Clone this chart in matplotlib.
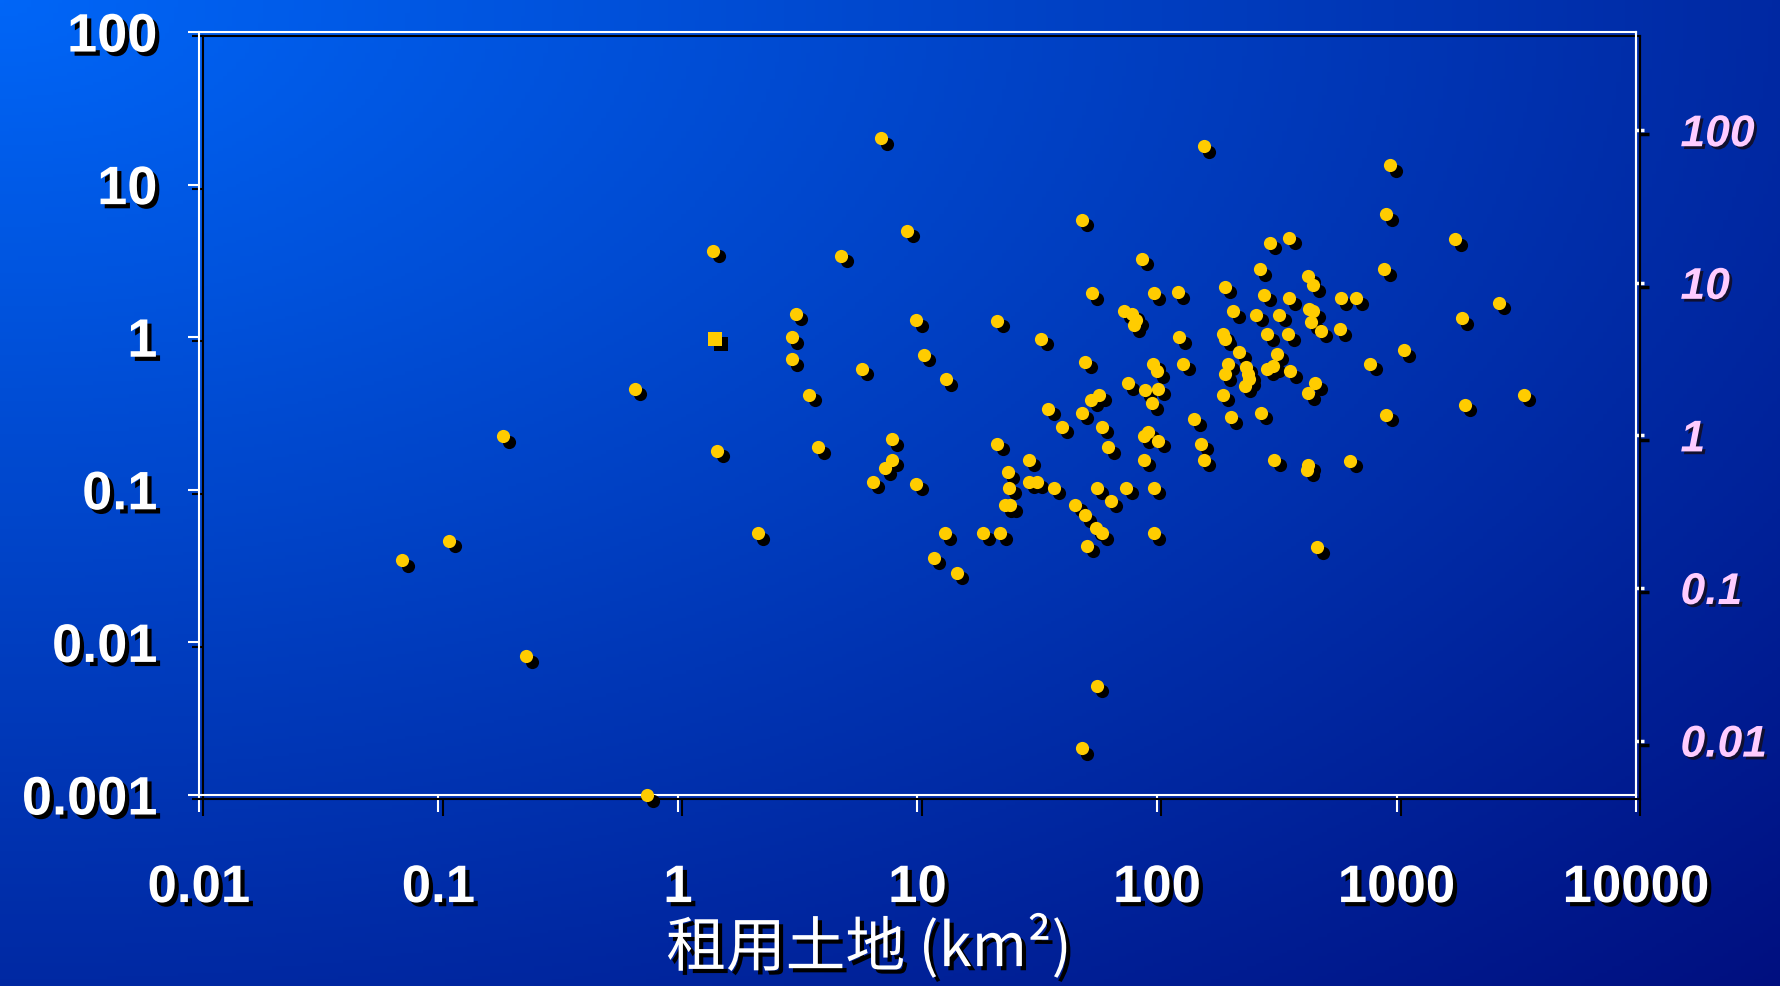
import numpy as np
import matplotlib.pyplot as plt
import matplotlib.patheffects as pe
from matplotlib.transforms import ScaledTranslation

# leased land area (km2) and the left-axis value for each site
rent_area = [0.0705, 0.111, 0.186, 0.232, 0.745, 0.66, 1.40, 1.46, 2.15, 2.98,
             2.98, 3.1, 3.54, 3.86, 4.81, 5.86, 6.5, 7.05, 7.3, 7.8,
             7.8, 9.07, 9.9, 9.9, 10.6, 11.7, 13.0, 13.1, 14.6, 18.8,
             21.5, 21.5, 22.2, 23.8, 24.1, 23.3, 24.4, 29.1, 29.1, 31.4,
             32.9, 35.2, 37.1, 40.0, 45.6, 48.6, 48.6, 48.6, 50.2, 50.0,
             51.0, 53.0, 53.5, 55.5, 56.0, 56.0, 57.5, 58.7, 58.7, 62.5,
             64.0, 73.0, 74.5, 75.5, 79.0, 80.0, 82.0, 86.5, 88.0, 88.0,
             89.0, 91.5, 95.0, 96.5, 97.0, 97.0, 97.0, 100.0, 101.0, 101.0,
             122.0, 124.0, 129.0, 143.0, 153.0, 157.0, 157.0, 188.0, 188.0, 192.0,
             192.0, 192.0, 197.0, 203.0, 208.0, 220.0, 232.0, 235.0, 240.0, 242.0,
             260.0, 268.0, 271.0, 280.0, 289.0, 289.0, 295.0, 305.0, 308.0, 316.0,
             323.0, 354.0, 357.0, 357.0, 360.0, 423.0, 427.0, 427.0, 427.0, 432.0,
             440.0, 448.0, 448.0, 458.0, 466.0, 482.0, 580.0, 586.0, 640.0, 680.0,
             778.0, 890.0, 905.0, 905.0, 940.0, 1070.0, 1760.0, 1870.0, 1930.0, 2670.0,
             3390.0]
y_value = [0.0347, 0.0464, 0.224, 0.0081, 0.001, 0.46, 3.68, 0.18, 0.052, 1.0,
           0.72, 1.43, 0.42, 0.19, 3.43, 0.62, 0.113, 20.2, 0.138, 0.157,
           0.214, 5.0, 1.29, 0.11, 0.77, 0.036, 0.052, 0.53, 0.0286, 0.052,
           1.28, 0.2, 0.052, 0.13, 0.103, 0.079, 0.079, 0.157, 0.113, 0.113,
           0.98, 0.34, 0.103, 0.26, 0.08, 5.88, 0.32, 0.00203, 0.69, 0.068,
           0.043, 0.39, 1.95, 0.056, 0.103, 0.0052, 0.42, 0.052, 0.26, 0.19,
           0.085, 1.48, 0.103, 0.5, 1.43, 1.2, 1.3, 3.26, 0.157, 0.224,
           0.45, 0.24, 0.37, 0.67, 1.95, 0.103, 0.052, 0.6, 0.21, 0.46,
           1.98, 1.0, 0.67, 0.29, 0.2, 0.157, 17.9, 0.42, 1.05, 2.15,
           0.98, 0.57, 0.67, 0.3, 1.48, 0.8, 0.48, 0.64, 0.57, 0.53,
           1.4, 2.8, 0.32, 1.9, 0.62, 1.05, 4.15, 0.65, 0.157, 0.78,
           1.4, 1.05, 1.8, 4.5, 0.6, 0.135, 0.146, 0.43, 2.52, 1.52,
           1.25, 2.2, 1.48, 0.5, 0.042, 1.1, 1.13, 1.8, 0.155, 1.8,
           0.67, 2.8, 6.4, 0.31, 13.4, 0.82, 4.37, 1.33, 0.36, 1.68,
           0.42]
# one site drawn with a square marker
sq_area = [1.43]
sq_value = [0.98]

x_ticks = [0.01, 0.1, 1, 10, 100, 1000, 10000]
x_labels = ['0.01', '0.1', '1', '10', '100', '1000', '10000']
y_ticks = [0.001, 0.01, 0.1, 1, 10, 100]
y_labels = ['0.001', '0.01', '0.1', '1', '10', '100']
r_ticks = [0.01, 0.1, 1, 10, 100]
r_labels = ['0.01', '0.1', '1', '10', '100']

plt.rcParams['font.family'] = ['Liberation Sans', 'Noto Sans CJK SC', 'DejaVu Sans']

fig = plt.figure(figsize=(17.81, 9.86), dpi=100)

# blue background, bright in the top-left corner and dark towards bottom-right
bg = fig.add_axes([0, 0, 1, 1], zorder=-10)
h, v = np.meshgrid(np.linspace(0, 1, 400), np.linspace(0, 1, 300))
t = np.clip(np.sqrt(h ** 2 + v ** 2) / np.sqrt(2), 0, 1)
c_tl = np.array([0.0, 0.40, 0.97])
c_br = np.array([0.0, 0.06, 0.50])
grad = c_tl + (c_br - c_tl) * t[..., None]
bg.imshow(grad, aspect='auto', extent=[0, 1, 0, 1], origin='upper')
bg.axis('off')

line_fx = [pe.SimpleLineShadow(offset=(3, -3), shadow_color='black', alpha=1), pe.Normal()]
text_fx = [pe.withSimplePatchShadow(offset=(3, -3), shadow_rgbFace='black', alpha=1)]

ax = fig.add_axes([0.1117, 0.1937, 0.8069, 0.7738])
ax.set_facecolor('none')
ax.set_xscale('log')
ax.set_yscale('log')
ax.set_xlim(0.01, 10000)
ax.set_ylim(0.001, 100)

# right axis runs on a shifted scale
ax2 = ax.twinx()
ax2.set_yscale('log')
ax2.set_ylim(0.001 * 4.4, 100 * 4.4)

ax.set_xticks(x_ticks, x_labels, fontsize=38, fontweight='bold', color='white')
ax.set_yticks(y_ticks, y_labels, fontsize=39, fontweight='bold', color='white')
ax2.set_yticks(r_ticks, r_labels, fontsize=32, fontweight='bold', style='italic',
               color='#ffccff')
ax.minorticks_off()
ax2.minorticks_off()

ax.tick_params(axis='x', direction='out', length=12, width=1.5, color='white', pad=37)
ax.tick_params(axis='y', direction='out', length=8, width=1.5, color='white', pad=22)
ax2.tick_params(axis='y', direction='out', length=6, width=2.5, color='white', pad=26)

for a in (ax, ax2):
    for sp in a.spines.values():
        sp.set_color('white')
        sp.set_linewidth(1.5)
        sp.set_path_effects(line_fx)
ax2.spines['left'].set_visible(False)
ax2.spines['top'].set_visible(False)
ax2.spines['bottom'].set_visible(False)

for tick in ax.xaxis.get_major_ticks() + ax.yaxis.get_major_ticks() + ax2.yaxis.get_major_ticks():
    tick.tick1line.set_path_effects(line_fx)
    tick.tick2line.set_path_effects(line_fx)
for lbl in ax.get_xticklabels() + ax.get_yticklabels():
    lbl.set_path_effects(text_fx)
for lbl in ax2.get_yticklabels():
    lbl.set_path_effects([pe.withSimplePatchShadow(offset=(2, -2), shadow_rgbFace='#101030', alpha=1)])

# yellow markers with a black drop shadow
shadow = ax.transData + ScaledTranslation(4 / 72, -4 / 72, fig.dpi_scale_trans)
ax.scatter(rent_area, y_value, s=90, color='black', transform=shadow, zorder=4,
           clip_on=False, linewidths=0)
ax.scatter(sq_area, sq_value, s=90, marker='s', color='black', transform=shadow, zorder=4,
           clip_on=False, linewidths=0)
ax.scatter(rent_area, y_value, s=90, color='#ffcc00', zorder=5, clip_on=False, linewidths=0)
ax.scatter(sq_area, sq_value, s=90, marker='s', color='#ffcc00', zorder=5, clip_on=False,
           linewidths=0)

fig.text(869 / 1781, 0.006, '租用土地 (km²)', fontsize=43, color='white', ha='center',
         va='bottom', family=['Noto Sans CJK SC', 'DejaVu Sans'], path_effects=text_fx)

fig.savefig('out.png', dpi=100)
